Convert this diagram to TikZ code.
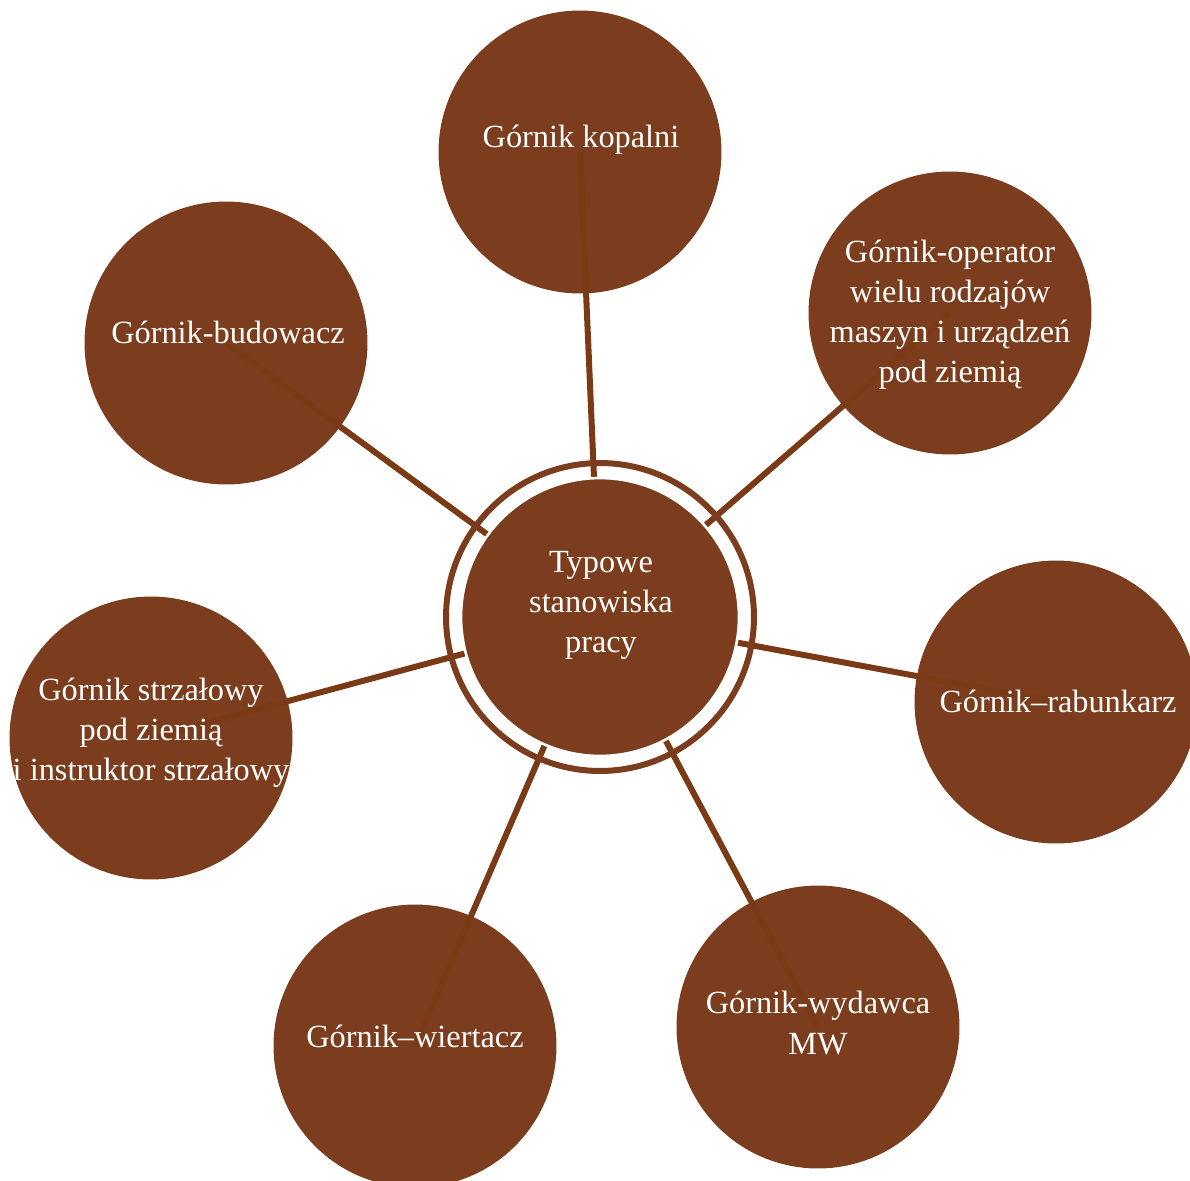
\documentclass[tikz,border=0pt]{standalone}
\usepackage{fontspec}
\setmainfont{Liberation Serif}
\usepackage{tikz}
\definecolor{brazowy}{HTML}{7B3D1D}
\definecolor{liniaBraz}{HTML}{7A3A15}

\begin{document}
\begin{tikzpicture}[x=0.02cm,y=-0.02cm,
  krag/.style={circle,fill=brazowy,minimum size=5.66cm,inner sep=0pt},
  napis/.style={text=white,align=center,inner sep=0pt,font=\fontsize{18.4}{22.8}\selectfont},
  linia/.style={liniaBraz,line width=0.12cm}]
\useasboundingbox (0,0) rectangle (1190,1180);
% stanowiska dookola
\node[krag] (kop) at (580,152) {};
\node[krag] (oper) at (950,313) {};
\node[krag] (rab) at (1056,702) {};
\node[krag] (wyd) at (818,1027) {};
\node[krag] (wier) at (415,1046) {};
\node[krag] (strz) at (151,738) {};
\node[krag] (bud) at (226,343) {};
\coordinate (srodek) at (600,617);
% polaczenia
\foreach \n in {kop,oper,rab,wyd,wier,strz,bud}
  \draw[linia] (\n.center) -- (srodek);
% srodek z obwodka
\draw[brazowy,line width=0.12cm] (srodek) circle[radius=3.08cm];
\node[krag,minimum size=5.56cm,draw=white,line width=1.5pt] (typ) at (srodek) {};
% napisy
\node[napis] (tTyp) at (601,605) {Typowe\\stanowiska\\pracy};
\node[napis] (tKop) at (581,140) {Górnik kopalni};
\node[napis] (tOper) at (950,315) {Górnik-operator\\wielu rodzajów\\maszyn i urządzeń\\pod ziemią};
\node[napis] (tRab) at (1058,701) {Górnik–rabunkarz};
\node[napis] (tWyd) at (818,1023) {Górnik-wydawca\\MW};
\node[napis] (tWier) at (415,1036) {Górnik–wiertacz};
\node[napis] (tStrz) at (151,733) {Górnik strzałowy\\pod ziemią\\i instruktor strzałowy};
\node[napis] (tBud) at (228,332) {Górnik-budowacz};
\end{tikzpicture}
\end{document}
